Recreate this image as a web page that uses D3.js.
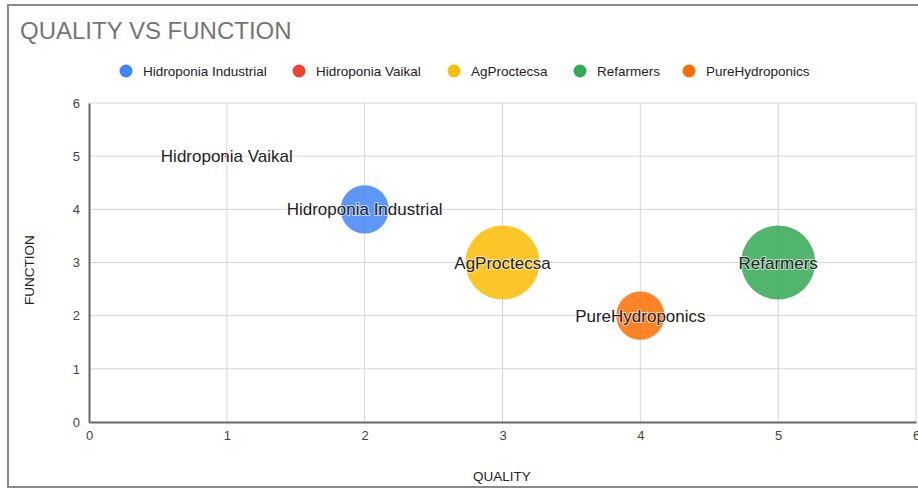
<!DOCTYPE html>
<html>
<head>
<meta charset="utf-8">
<script src="https://cdn.jsdelivr.net/npm/d3@7"></script>
<style>
  body { margin: 0; background: #fff; }
  svg { display: block; font-family: Arial, "Liberation Sans", sans-serif; }
</style>
</head>
<body>
<svg id="chart"></svg>
<script>
// data
var names = ['Hidroponia Industrial', 'Hidroponia Vaikal', 'AgProctecsa', 'Refarmers', 'PureHydroponics'];
var quality = [2, 1, 3, 5, 4];
var func = [4, 5, 3, 3, 2];
var sizes = [2, 0, 5, 5, 2];
var colors = ['#4285f4', '#ea4335', '#fbbc04', '#34a853', '#ff6d01'];
var xTicks = [0, 1, 2, 3, 4, 5, 6];
var yTicks = [0, 1, 2, 3, 4, 5, 6];

var width = 918, height = 489;
var margin = { top: 103, right: 2, bottom: 67, left: 89 };

var svg = d3.select('#chart').attr('width', width).attr('height', height);

var x = d3.scaleLinear().domain([0, 6]).range([margin.left, width - margin.right]);
var y = d3.scaleLinear().domain([0, 6]).range([height - margin.bottom, margin.top]);
var r = d3.scaleSqrt().domain([0, 5]).range([2, 37]);

// outer frame
svg.append('rect')
    .attr('x', 8).attr('y', 5)
    .attr('width', 940).attr('height', 482)
    .attr('fill', 'none')
    .attr('stroke', '#8a8a8a')
    .attr('stroke-width', 2);

svg.append('text')
    .attr('x', 20).attr('y', 39)
    .attr('font-size', 24)
    .attr('fill', '#757575')
    .text('QUALITY VS FUNCTION');

// legend
var legendX = [126, 299, 454, 580, 689];
var legend = svg.append('g');
names.forEach(function (n, i) {
    legend.append('circle')
        .attr('cx', legendX[i]).attr('cy', 71).attr('r', 6.5)
        .attr('fill', colors[i]);
    legend.append('text')
        .attr('x', legendX[i] + 17).attr('y', 76)
        .attr('font-size', 13.5)
        .attr('fill', '#222')
        .text(n);
});

// gridlines
svg.append('g')
    .selectAll('line.vx')
    .data(xTicks.slice(1))
    .enter()
    .append('line')
    .attr('x1', function (d) { return x(d); })
    .attr('x2', function (d) { return x(d); })
    .attr('y1', y(0)).attr('y2', y(6))
    .attr('stroke', '#d6d6d6');

svg.append('g')
    .selectAll('line.hy')
    .data(yTicks.slice(1))
    .enter()
    .append('line')
    .attr('x1', x(0)).attr('x2', x(6))
    .attr('y1', function (d) { return y(d); })
    .attr('y2', function (d) { return y(d); })
    .attr('stroke', '#d6d6d6');

// axes
var xAxis = svg.append('g')
    .attr('transform', 'translate(0,' + y(0) + ')')
    .call(d3.axisBottom(x).tickValues(xTicks).tickSize(0).tickPadding(9).tickFormat(d3.format('d')));
xAxis.select('.domain').attr('stroke', '#666').attr('stroke-width', 2);

var yAxis = svg.append('g')
    .attr('transform', 'translate(' + x(0) + ',0)')
    .call(d3.axisLeft(y).tickValues(yTicks).tickSize(0).tickPadding(9).tickFormat(d3.format('d')));
yAxis.select('.domain').attr('stroke', '#666').attr('stroke-width', 2);

svg.selectAll('.tick text')
    .attr('font-size', 13)
    .attr('fill', '#444')
    .attr('font-family', 'Arial, "Liberation Sans", sans-serif');

svg.append('text')
    .attr('x', 502).attr('y', 481)
    .attr('text-anchor', 'middle')
    .attr('font-size', 13.5)
    .attr('fill', '#222')
    .text('QUALITY');

svg.append('text')
    .attr('transform', 'translate(34,270) rotate(-90)')
    .attr('text-anchor', 'middle')
    .attr('font-size', 13.5)
    .attr('fill', '#222')
    .text('FUNCTION');

// bubbles
var idx = d3.range(names.length);
svg.append('g')
    .selectAll('circle')
    .data(idx)
    .enter()
    .append('circle')
    .attr('cx', function (i) { return x(quality[i]); })
    .attr('cy', function (i) { return y(func[i]); })
    .attr('r', function (i) { return r(sizes[i]); })
    .attr('fill', function (i) { return colors[i]; })
    .attr('fill-opacity', 0.85);

svg.append('g')
    .selectAll('text')
    .data(idx)
    .enter()
    .append('text')
    .attr('x', function (i) { return x(quality[i]); })
    .attr('y', function (i) { return y(func[i]) + 6; })
    .attr('text-anchor', 'middle')
    .attr('font-size', 17)
    .attr('fill', '#222')
    .attr('stroke', '#fff')
    .attr('stroke-width', 2)
    .attr('stroke-opacity', 0.6)
    .attr('paint-order', 'stroke')
    .text(function (i) { return names[i]; });
</script>
</body>
</html>
